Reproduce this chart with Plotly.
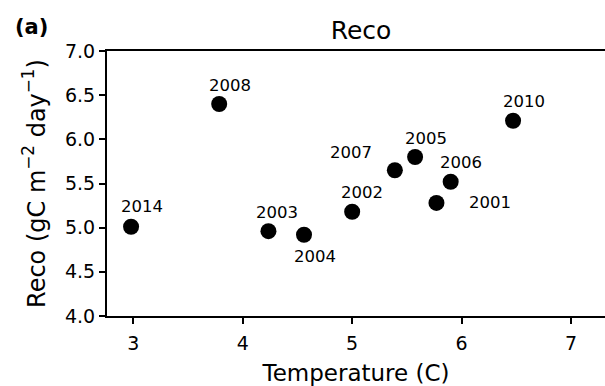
import plotly.graph_objects as go

years = ["2014", "2008", "2003", "2004", "2002", "2001", "2006", "2007", "2005", "2010"]
temperature = [2.98, 3.785, 4.235, 4.56, 5.00, 5.77, 5.90, 5.39, 5.575, 6.47]
reco = [5.01, 6.40, 4.96, 4.92, 5.18, 5.28, 5.52, 5.65, 5.80, 6.21]
# label offsets (px) relative to each point
label_dx = [11, 11, 9, 11, 10, 54, 10, -44, 11, 11]
label_dy = [20, 19, 19, -22, 19, 0, 19, 18, 19, 19]

x_ticks = [3, 4, 5, 6, 7]
y_ticks = [4.0, 4.5, 5.0, 5.5, 6.0, 6.5, 7.0]

FONT = "DejaVu Sans"

fig = go.Figure()
fig.add_trace(go.Scatter(
    x=temperature, y=reco, mode="markers",
    marker=dict(color="black", size=16, line=dict(width=0)),
    showlegend=False, hoverinfo="skip"))

for yr, xv, yv, dx, dy in zip(years, temperature, reco, label_dx, label_dy):
    fig.add_annotation(x=xv, y=yv, text=yr, showarrow=False,
                       xshift=dx, yshift=dy,
                       font=dict(family=FONT, size=16.5, color="black"))

fig.add_annotation(xref="paper", yref="paper", x=(13 - 107) / 498, y=1 + 24 / 265,
                   text="<b>(a)</b>", showarrow=False, xanchor="left", yanchor="middle",
                   font=dict(family=FONT, size=21, color="black"))

fig.update_layout(
    width=605, height=386,
    margin=dict(l=107, r=0, t=51, b=70),
    plot_bgcolor="white", paper_bgcolor="white",
    font=dict(family=FONT, color="black"),
    title=dict(text="Reco", x=361/605, xref="container", xanchor="center",
               y=1 - 30/386, yref="container", yanchor="middle",
               font=dict(family=FONT, size=25, color="black")),
    xaxis=dict(range=[2.76, 7.31], tickvals=x_ticks, ticktext=[str(v) for v in x_ticks],
               showgrid=False, zeroline=False, showline=True, linecolor="black", linewidth=2,
               mirror=True, ticks="outside", ticklen=6, tickwidth=1.5, tickcolor="black",
               ticklabelstandoff=3,
               tickfont=dict(family=FONT, size=19, color="black"),
               title=dict(text="Temperature (C)", standoff=13,
                          font=dict(family=FONT, size=23, color="black"))),
    yaxis=dict(range=[4.0, 7.0], tickvals=y_ticks, ticktext=[f"{v:.1f}" for v in y_ticks],
               showgrid=False, zeroline=False, showline=True, linecolor="black", linewidth=2,
               ticks="outside", ticklen=6, tickwidth=1.5, tickcolor="black",
               tickfont=dict(family=FONT, size=19, color="black"),
               title=dict(text="Reco (gC m<sup>−2</sup> day<sup>−1</sup>)", standoff=13,
                          font=dict(family=FONT, size=24, color="black"))),
)

fig.write_html("out.html")
